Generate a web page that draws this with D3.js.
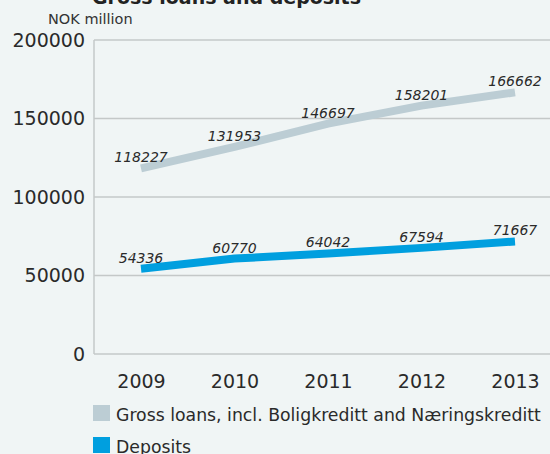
<!DOCTYPE html>
<html><head><meta charset="utf-8">
<script src="https://cdn.jsdelivr.net/npm/d3@7"></script>
<style>html,body{margin:0;padding:0;background:#f0f5f5;overflow:hidden}</style>
</head><body><svg id="c" width="550" height="454"></svg>
<script>
const years = ["2009","2010","2011","2012","2013"];
const grossLoans = [118227,131953,146697,158201,166662];
const deposits = [54336,60770,64042,67594,71667];
const yTicks = [0,50000,100000,150000,200000];
const seriesNames = ["Gross loans, incl. Boligkreditt and Næringskreditt","Deposits"];
const seriesColors = ["#bccdd4","#009fdf"];

(function(){
const svg = d3.select("#c");
const font = "'DejaVu Sans', sans-serif";
svg.append("rect").attr("width",550).attr("height",454).attr("fill","#f0f5f5");

const pLeft=94, pTop=40, pBottom=354, pRight=560;
const x = d3.scalePoint().domain(years).range([141,515]);
const y = d3.scaleLinear().domain([0,200000]).range([pBottom,pTop]);

// title (cut off at top as in reference)
svg.append("text").attr("x",92).attr("y",4).attr("font-family",font).attr("font-weight","bold")
  .attr("font-size",19).attr("fill","#222").text("Gross loans and deposits");
svg.append("text").attr("x",48).attr("y",24).attr("font-family",font).attr("font-size",14.5)
  .attr("fill","#333").text("NOK million");

// gridlines
svg.append("g").selectAll("line").data(yTicks).join("line")
  .attr("x1",pLeft).attr("x2",pRight).attr("y1",d=>y(d)).attr("y2",d=>y(d))
  .attr("stroke","#c4c8c8").attr("stroke-width",1.5);
svg.append("line").attr("x1",pLeft).attr("x2",pLeft).attr("y1",pTop).attr("y2",pBottom)
  .attr("stroke","#c4c8c8").attr("stroke-width",1.5);

// y tick labels
const yAxis = d3.axisLeft(y).tickValues(yTicks).tickSize(0).tickPadding(9).tickFormat(d=>String(d));
const ga = svg.append("g").attr("transform",`translate(${pLeft},0)`).call(yAxis);
ga.select(".domain").remove();
ga.selectAll("text").attr("font-family",font).attr("font-size",19).attr("fill","#2a2a2a");

// x tick labels
const xAxis = d3.axisBottom(x).tickSize(0).tickPadding(21);
const gx = svg.append("g").attr("transform",`translate(0,${pBottom})`).call(xAxis);
gx.select(".domain").remove();
gx.selectAll("text").attr("font-family",font).attr("font-size",19).attr("fill","#2a2a2a");

const line = d3.line().x((d,i)=>x(years[i])).y(d=>y(d));
[grossLoans,deposits].forEach((s,k)=>{
  svg.append("path").attr("d",line(s)).attr("fill","none").attr("stroke",seriesColors[k])
    .attr("stroke-width",8);
  svg.append("g").selectAll("text").data(s).join("text")
    .attr("x",(d,i)=>x(years[i])).attr("y",d=>y(d)-6).attr("text-anchor","middle")
    .attr("font-family",font).attr("font-style","italic").attr("font-size",14).attr("fill","#2a2a2a")
    .text(d=>d);
});

// legend
seriesNames.forEach((n,k)=>{
  const ly = 405 + k*32;
  svg.append("rect").attr("x",93).attr("y",ly).attr("width",17).attr("height",16).attr("fill",seriesColors[k]);
  svg.append("text").attr("x",116).attr("y",ly+16).attr("font-family",font).attr("font-size",17.3)
    .attr("fill","#2a2a2a").text(n);
});
})();
</script></body></html>
